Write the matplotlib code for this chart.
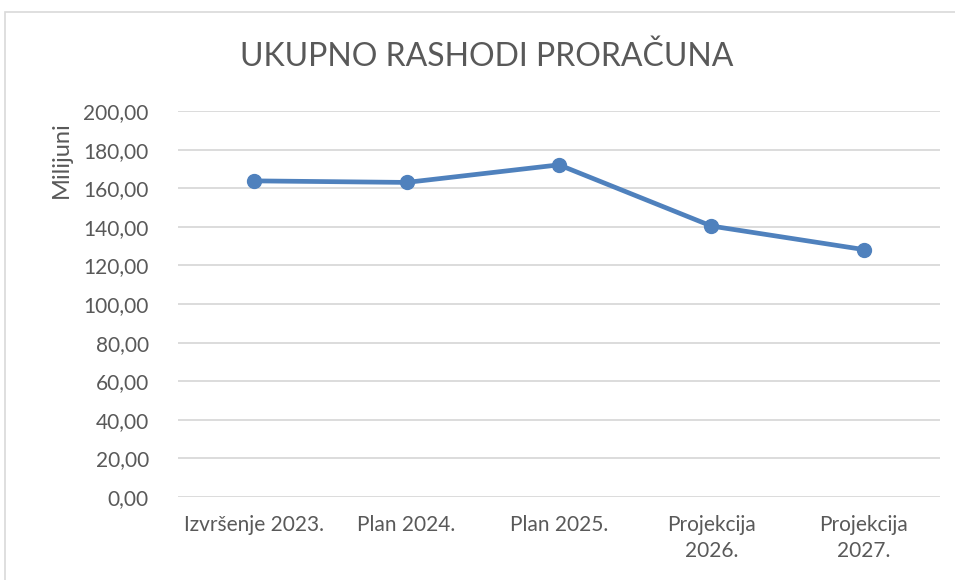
import matplotlib.pyplot as plt
from matplotlib.patches import Rectangle

# Ukupno rashodi proračuna (milijuni)
categories = ['Izvršenje 2023.', 'Plan 2024.', 'Plan 2025.', 'Projekcija\n2026.', 'Projekcija\n2027.']
values = [163.8, 163.0, 172.1, 140.4, 128.2]
y_ticks = [0, 20, 40, 60, 80, 100, 120, 140, 160, 180, 200]

plt.rcParams['font.family'] = ['Lato', 'DejaVu Sans']

fig = plt.figure(figsize=(9.55, 5.8), dpi=100)
ax = fig.add_axes([0.1864, 0.1431, 0.7979, 0.6655])

# chart border (cut off at right and bottom like the screenshot)
fig.patches.append(Rectangle((5 / 955, -0.1), 1.1, 1 - 12 / 580 + 0.1, transform=fig.transFigure,
                             fill=False, edgecolor='#d9d9d9', linewidth=1.2))

x = list(range(len(categories)))
ax.plot(x, values, color='#4f81bd', linewidth=3.4, marker='o', markersize=10,
        solid_capstyle='round', zorder=3, clip_on=False)

ax.set_xlim(-0.5, len(categories) - 0.5)
ax.set_ylim(0, 200)
ax.set_yticks(y_ticks)
ax.set_yticklabels([f'{v:.2f}'.replace('.', ',') for v in y_ticks])
ax.set_xticks(x)
ax.set_xticklabels(categories, linespacing=1.4)

ax.grid(axis='y', color='#d9d9d9', linewidth=1.3)
ax.set_axisbelow(True)
for side in ['top', 'right', 'left', 'bottom']:
    ax.spines[side].set_visible(False)
ax.tick_params(axis='both', length=0, labelsize=15, colors='#595959')
ax.tick_params(axis='y', pad=21)
ax.tick_params(axis='x', pad=13)

fig.text(487 / 955, 1 - 57 / 580, 'UKUPNO RASHODI PRORAČUNA', ha='center', va='center',
         fontsize=23, color='#595959')
fig.text(61 / 955, 1 - 160 / 580, 'Milijuni', rotation=90, ha='center', va='center',
         fontsize=17, color='#595959')

fig.savefig('out.png', dpi=100, facecolor='white')
